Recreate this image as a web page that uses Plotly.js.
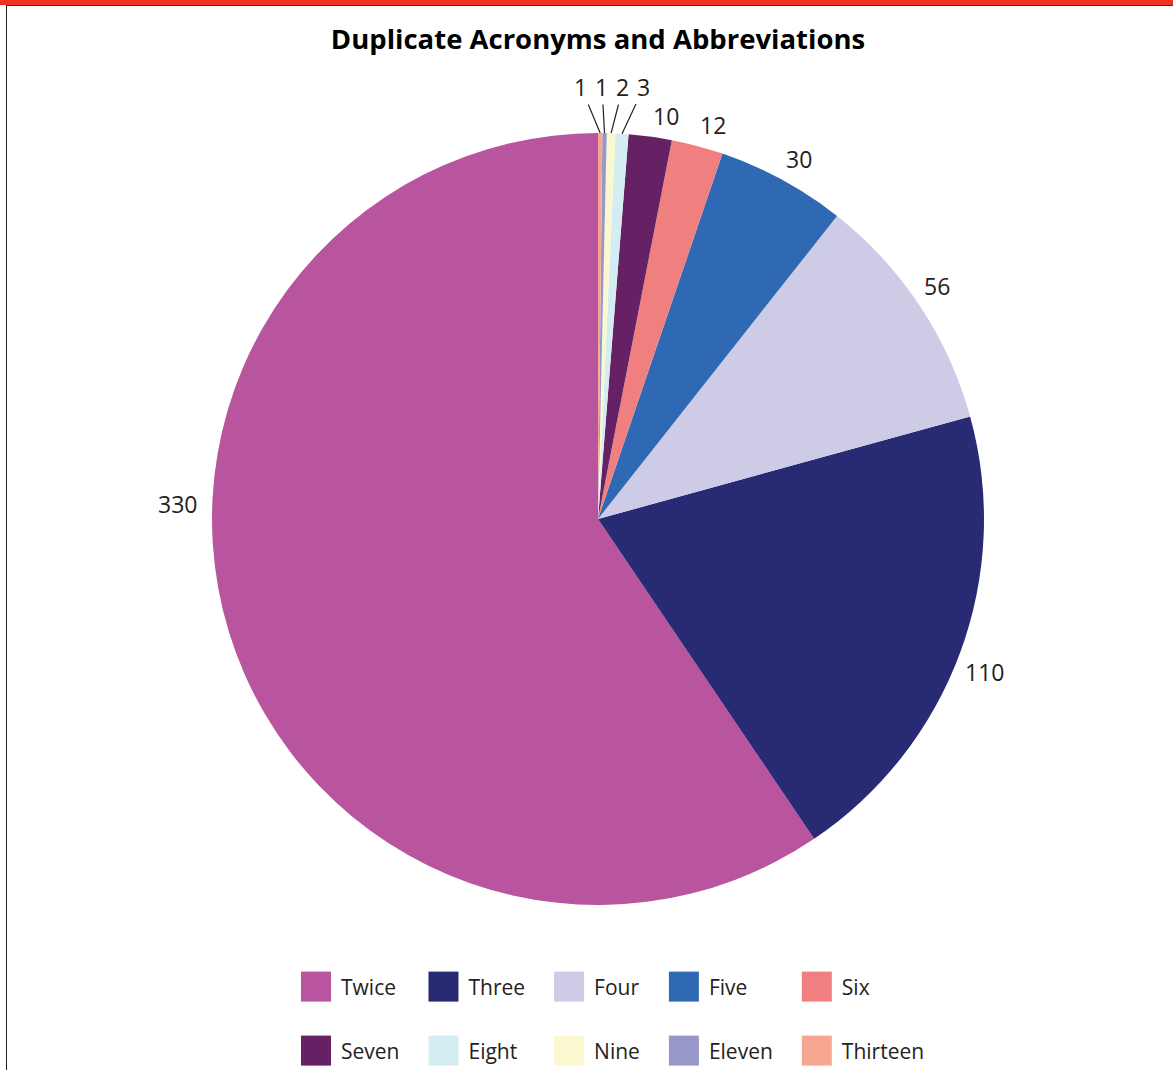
<!DOCTYPE html>
<html>
<head>
<meta charset="utf-8">
<script src="https://cdn.plot.ly/plotly-3.0.1.min.js"></script>
<style>
  html, body { margin: 0; padding: 0; background: #ffffff; }
  #wrap { position: relative; width: 1173px; height: 1070px; overflow: hidden; }
  #chart { position: absolute; left: 0; top: 0; width: 1173px; height: 1070px; }
  #redbar { position: absolute; left: 0; top: 0; width: 1173px; height: 5px; background: #EE3325; z-index: 5; pointer-events: none; }
  #topline { position: absolute; left: 6px; top: 5px; width: 1167px; height: 1px; background: #333333; z-index: 5; pointer-events: none; }
  #leftline { position: absolute; left: 6px; top: 5px; width: 1px; height: 1065px; background: #222222; z-index: 5; pointer-events: none; }
</style>
</head>
<body>
<div id="wrap">
  <div id="chart"></div>
  <div id="redbar"></div>
  <div id="topline"></div>
  <div id="leftline"></div>
</div>
<script>
// ---- data ----
var chartTitle = 'Duplicate Acronyms and Abbreviations';
var categories = ['Twice', 'Three', 'Four', 'Five', 'Six', 'Seven', 'Eight', 'Nine', 'Eleven', 'Thirteen'];
var counts = [330, 110, 56, 30, 12, 10, 3, 2, 1, 1];
var sliceColors = ['#B9549E', '#282A73', '#CECBE6', '#3069B3', '#F08080', '#652164', '#D4EDF3', '#FBF8CF', '#9897C9', '#F7A791'];

var FONT = '"Open Sans", "Noto Sans", sans-serif';
var LABEL_FONT = { family: FONT, size: 23, color: '#222222' };

// Plotly places the first slice of a counterclockwise pie on [rotation, rotation + share];
// rotate so that the first slice ends at 12 o'clock and the rest run counterclockwise from it.
var total = counts.reduce(function (a, b) { return a + b; }, 0);
var rot = 360 - counts[0] / total * 360;
var maxCount = Math.max.apply(null, counts);

// label handling: tiny slices get leader-line labels spread above the pie,
// the dominant slice gets its label beside the pie, others sit just outside the rim
var isTiny = counts.map(function (v) { return v / total < 0.01; });
var isMain = counts.map(function (v) { return v === maxCount; });

var data = [{
  type: 'pie',
  labels: categories,
  values: counts,
  sort: false,
  direction: 'counterclockwise',
  rotation: rot,
  marker: { colors: sliceColors, line: { width: 0 } },
  textinfo: 'none',
  hoverinfo: 'label+value',
  showlegend: true
}];

var layout = {
  width: 1173,
  height: 1070,
  margin: { l: 212, r: 189, t: 133, b: 165 },
  paper_bgcolor: 'rgba(0,0,0,0)',
  plot_bgcolor: 'rgba(0,0,0,0)',
  title: {
    text: '<b>' + chartTitle + '</b>',
    font: { family: FONT, size: 27.5, color: '#000000' },
    x: 0.5, xref: 'paper', xanchor: 'center',
    y: 1 - 39 / 1070, yref: 'container', yanchor: 'middle'
  },
  showlegend: true,
  legend: {
    orientation: 'h',
    x: (301 - 212) / 772,
    xanchor: 'left',
    y: -0.0796,
    yanchor: 'top',
    entrywidthmode: 'fraction',
    entrywidth: 0.168,
    font: { family: FONT, size: 21, color: '#222222' },
    bgcolor: 'rgba(0,0,0,0)',
    traceorder: 'normal'
  }
};

var ROW_STEP = 64;
var COL_GAP = 29;
var TINY_LABEL_RISE = 46;   // label centre above the pie rim
var TINY_LABEL_PITCH = 21;  // horizontal spacing of the tiny labels
var MAIN_LABEL_GAP = 13;    // gap between pie edge and the main label
var RIM_GAP = 3;            // gap between rim and nearest label corner

function parseT(t) {
  var m = /translate\(\s*([-\d.e]+)[ ,]+([-\d.e]+)\s*\)/.exec(t || '');
  return m ? [parseFloat(m[1]), parseFloat(m[2])] : [0, 0];
}

function buildAnnotations(gd) {
  var cd = gd.calcdata[0];
  var cd0 = cd[0];
  var cx = cd0.cx, cy = cd0.cy, r = cd0.r;
  var gs = gd._fullLayout._size;
  function px2x(px) { return (px - gs.l) / gs.w; }
  function py2y(py) { return 1 - (py - gs.t) / gs.h; }
  var anns = [];
  var tiny = [];
  cd.forEach(function (pt) {
    var i = pt.i;
    var ux = pt.pxmid[0] / r, uy = pt.pxmid[1] / r;
    if (isTiny[i]) {
      tiny.push({ i: i, tx: cx + pt.pxmid[0], ty: cy + pt.pxmid[1] });
    } else if (isMain[i]) {
      anns.push({
        x: px2x(cx - r - MAIN_LABEL_GAP), y: py2y(cy + 3), xref: 'paper', yref: 'paper',
        xanchor: 'right', yanchor: 'bottom', showarrow: false,
        text: String(counts[i]), font: LABEL_FONT
      });
    } else {
      var px = cx + (r + RIM_GAP) * ux, py = cy + (r + RIM_GAP) * uy;
      anns.push({
        x: px2x(px), y: py2y(py), xref: 'paper', yref: 'paper',
        xanchor: ux > 0.1 ? 'left' : (ux < -0.1 ? 'right' : 'center'),
        yanchor: uy < 0 ? 'bottom' : 'top',
        showarrow: false,
        text: String(counts[i]), font: LABEL_FONT
      });
    }
  });
  tiny.sort(function (a, b) { return a.tx - b.tx; });
  var meanX = tiny.reduce(function (s, t) { return s + t.tx; }, 0) / Math.max(tiny.length, 1);
  tiny.forEach(function (t, k) {
    var lx = meanX + 3 + (k - (tiny.length - 1) / 2) * TINY_LABEL_PITCH;
    var ly = cy - r - TINY_LABEL_RISE;
    anns.push({
      x: px2x(t.tx), y: py2y(t.ty), xref: 'paper', yref: 'paper',
      ax: lx - t.tx, ay: ly - t.ty, axref: 'pixel', ayref: 'pixel',
      showarrow: true, arrowhead: 0, arrowwidth: 1.2, arrowcolor: '#222222',
      standoff: 0, startstandoff: 0,
      text: String(counts[t.i]), font: LABEL_FONT
    });
  });
  return anns;
}

function adjustLegend(gd) {
  var sb = gd.querySelector('.legend .scrollbox');
  if (sb) sb.removeAttribute('clip-path');
  var legendEl = gd.querySelector('.legend');
  if (legendEl) legendEl.removeAttribute('clip-path');
  var items = Array.prototype.slice.call(gd.querySelectorAll('.legend .traces'));
  var ys = [], xs = [];
  var parsed = items.map(function (it) {
    var p = parseT(it.getAttribute('transform'));
    if (ys.indexOf(p[1]) < 0) ys.push(p[1]);
    if (xs.indexOf(p[0]) < 0) xs.push(p[0]);
    var txt = it.querySelector('.legendtext');
    var w = txt ? txt.getBBox().width : 0;
    return { el: it, x: p[0], y: p[1], w: w };
  });
  ys.sort(function (a, b) { return a - b; });
  xs.sort(function (a, b) { return a - b; });
  var colW = xs.map(function () { return 0; });
  parsed.forEach(function (p) {
    var c = xs.indexOf(p.x);
    colW[c] = Math.max(colW[c], p.w);
  });
  var colX = [xs[0]];
  for (var c = 1; c < xs.length; c++) colX[c] = colX[c - 1] + 40 + colW[c - 1] + COL_GAP;
  parsed.forEach(function (p) {
    var row = ys.indexOf(p.y);
    var col = xs.indexOf(p.x);
    p.el.setAttribute('transform', 'translate(' + colX[col] + ',' + (ys[0] + row * ROW_STEP) + ')');
  });
  gd.querySelectorAll('.legend .legendpoints path').forEach(function (p) {
    var t = parseT(p.getAttribute('transform'));
    p.setAttribute('transform', 'translate(' + (t[0] - 5) + ',' + t[1] + ') scale(2.5)');
  });
}

var gdEl = document.getElementById('chart');
Plotly.newPlot(gdEl, data, layout, { staticPlot: true, displayModeBar: false })
  .then(function (gd) { return Plotly.relayout(gd, { annotations: buildAnnotations(gd) }); })
  .then(function () { adjustLegend(gdEl); });
</script>
</body>
</html>
